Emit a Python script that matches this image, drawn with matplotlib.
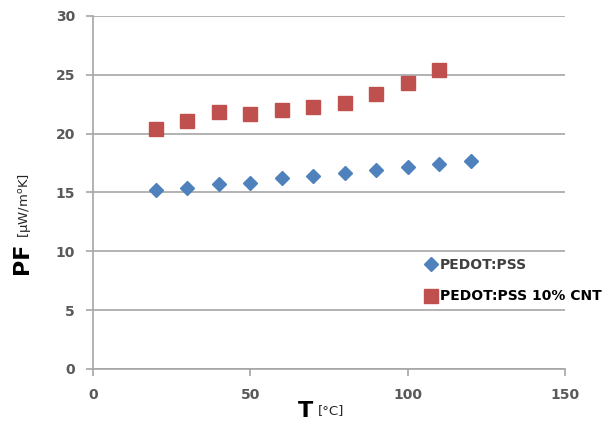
import numpy as np
import matplotlib
matplotlib.use('Agg')
import matplotlib.pyplot as plt

# Data
temp_pss = [20, 30, 40, 50, 60, 70, 80, 90, 100, 110, 120]
pf_pss = [15.2, 15.35, 15.7, 15.8, 16.2, 16.4, 16.65, 16.9, 17.2, 17.4, 17.65]
temp_cnt = [20, 30, 40, 50, 60, 70, 80, 90, 100, 110]
pf_cnt = [20.4, 21.1, 21.8, 21.65, 22.05, 22.3, 22.6, 23.35, 24.3, 25.4]
x_ticks = [0, 50, 100, 150]
y_ticks = [0, 5, 10, 15, 20, 25, 30]
labels = ['PEDOT:PSS', 'PEDOT:PSS 10% CNT']

fig = plt.figure(figsize=(6.07, 4.30), dpi=100)
ax = fig.add_axes([0.1532, 0.1419, 0.7776, 0.8209])

ax.plot(temp_pss, pf_pss, linestyle='none', marker='D', markersize=7.5,
        color='#4F81BD', label=labels[0], zorder=3)
ax.plot(temp_cnt, pf_cnt, linestyle='none', marker='s', markersize=9.5,
        color='#C0504D', label=labels[1], zorder=3)

ax.set_xlim(0, 150)
ax.set_ylim(0, 30)
ax.set_xticks(x_ticks)
ax.set_yticks(y_ticks)
ax.grid(axis='y', color='#A6A6A6', linewidth=1.2)
ax.set_axisbelow(True)
for s in ['top', 'right']:
    ax.spines[s].set_visible(False)
for s in ['left', 'bottom']:
    ax.spines[s].set_color('#A6A6A6')
    ax.spines[s].set_linewidth(1.2)
ax.tick_params(colors='#A6A6A6', length=5, width=1.2, labelcolor='#595959',
               labelsize=10)
ax.tick_params(axis='y', pad=8)
ax.tick_params(axis='x', pad=9)
for lab in ax.get_xticklabels() + ax.get_yticklabels():
    lab.set_fontweight('bold')

# axis titles: large bold symbol + smaller unit
fig.text(0.036, 0.400, 'PF', rotation=90, fontsize=16, fontweight='bold',
         ha='center', va='center')
fig.text(0.040, 0.447, r'[$\mathregular{\mu}$W/m$\mathregular{^{o}}$K]',
         rotation=90, fontsize=9.5, ha='center', va='bottom', color='#262626')
fig.text(0.503, 0.045, 'T', fontsize=16, fontweight='bold', ha='center',
         va='center')
fig.text(0.523, 0.045, '[°C]', fontsize=9.5, ha='left', va='center',
         color='#262626')

leg = ax.legend(loc='upper left', bbox_to_anchor=(0.69, 0.33), frameon=False,
                handletextpad=0.15, labelspacing=1.25, handlelength=1.0,
                borderaxespad=0, prop={'weight': 'bold', 'size': 10})
leg.get_texts()[0].set_color('#404040')

fig.savefig('out.png', dpi=100)
